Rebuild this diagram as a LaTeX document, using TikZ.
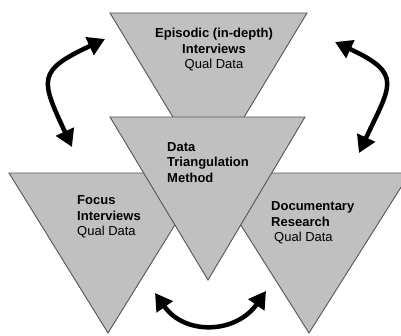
\documentclass[tikz,border=0pt]{standalone}
\usepackage{fontspec}
\setmainfont{Liberation Sans}
\usetikzlibrary{arrows.meta}

\definecolor{trigray}{RGB}{192,192,192}
\definecolor{triline}{RGB}{85,85,85}

\begin{document}
\begin{tikzpicture}[
    x=1pt, y=1pt,
    tri/.style={fill=trigray, draw=triline, line width=0.9pt, line join=miter},
    label/.style={inner sep=0pt, font=\fontsize{13}{15.5}\selectfont},
    swap/.style={{Triangle[length=17pt, width=19pt]}-{Triangle[length=17pt, width=19pt]}, line width=4.5pt, black},
]
    \useasboundingbox (0,0) rectangle (401,335);

    % outer triangles first, the middle one lies on top of them
    \filldraw[tri] (110,322) -- (307,322) -- (208.5,159) -- cycle;
    \filldraw[tri] (9,162) -- (207,162) -- (108,2) -- cycle;
    \filldraw[tri] (208,162) -- (410,162) -- (309,2) -- cycle;
    \filldraw[tri] (110,218) -- (305,218) -- (208,55) -- cycle;

    \node[label, align=center] (episodic) at (214,285)
        {\textbf{Episodic (in-depth)}\\\textbf{Interviews}\\Qual Data};
    \node[label, align=left, anchor=west] (method) at (167,172.5)
        {\textbf{Data}\\\textbf{Triangulation}\\\textbf{Method}};
    \node[label, align=left, anchor=west] (focus) at (77,118)
        {\textbf{Focus}\\\textbf{Interviews}\\Qual Data};
    \node[label, align=left, anchor=west] (documentary) at (271,112)
        {\textbf{Documentary}\\\textbf{Research}\\\hspace{3pt}Qual Data};

    % arrow ends
    \coordinate (lt) at (105,296);
    \coordinate (lb) at (72,188);
    \coordinate (rt) at (335,293);
    \coordinate (rb) at (359,182);
    \coordinate (bl) at (155,42);
    \coordinate (br) at (266,44);

    \draw[swap] (lt) to[out=205, in=115, looseness=1.7] (lb);
    \draw[swap] (rt) to[out=-25, in=65, looseness=1.7] (rb);
    \draw[swap] (bl) to[out=-55, in=-125, looseness=1.2] (br);
\end{tikzpicture}
\end{document}
